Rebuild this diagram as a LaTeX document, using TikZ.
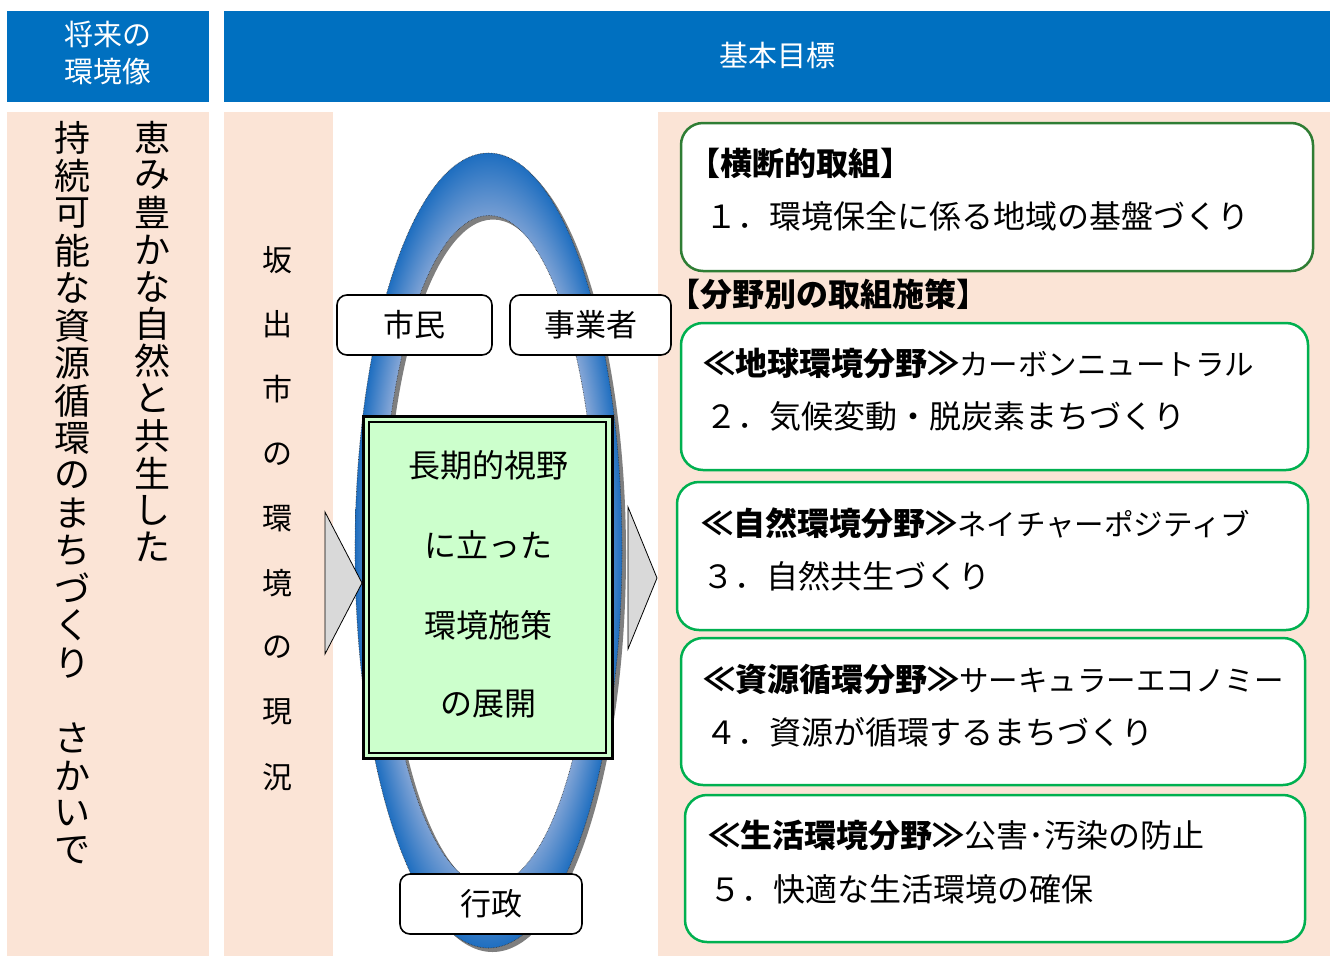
\documentclass[tikz,border=0pt]{standalone}
\usepackage{fontspec}
\setmainfont{Noto Sans CJK JP}
\definecolor{hdrblue}{HTML}{0070C0}
\definecolor{peach}{HTML}{FBE4D6}
\definecolor{boxgreen}{HTML}{00B050}
\definecolor{darkgreen}{HTML}{2F7D34}
\definecolor{paleGreen}{HTML}{CCFFCC}
\definecolor{ringdark}{HTML}{1E6EC0}
\definecolor{ringlight}{HTML}{A4B7DD}
\definecolor{arrowgray}{HTML}{D9D9D9}
\definecolor{shadowgray}{HTML}{7F7F7F}
\pgfdeclareradialshading{ringshade}{\pgfpoint{0bp}{0bp}}{color(0bp)=(ringlight); color(19bp)=(ringlight); color(25bp)=(ringdark); color(50bp)=(ringdark)}
\newcommand{\hd}[1]{{\fontsize{32}{36}\selectfont\bfseries #1}}
\newcommand{\rs}[2]{{\fontsize{#1}{36}\selectfont #2}}
\begin{document}
\begin{tikzpicture}[x=1pt,y=-1pt,
  vch/.style={font=\fontsize{36}{40}\selectfont, inner sep=0pt},
  sch/.style={font=\fontsize{30}{34}\selectfont, inner sep=0pt},
  hdrtxt/.style={text=white, font=\fontsize{29}{33}\selectfont, inner sep=0pt},
  actor/.style={draw=black, line width=1.6pt, rounded corners=10pt, fill=white,
    font=\fontsize{31}{35}\selectfont, inner sep=0pt},
  goalbox/.style={draw=boxgreen, line width=2.5pt, rounded corners=22pt, fill=white, inner sep=0pt},
  txtline/.style={anchor=west, inner sep=0pt, font=\fontsize{32}{36}\selectfont},
  ctrtxt/.style={inner sep=0pt, font=\fontsize{32}{36}\selectfont},
  tri/.style={fill=arrowgray, draw=black, line width=0.8pt, line join=miter}
]
\useasboundingbox (0,0) rectangle (1332,956);
% headers
\fill[hdrblue] (7,11) rectangle (209,102);
\fill[hdrblue] (224,11) rectangle (1330,102);
\node[hdrtxt] (h1a) at (108,34) {将来の};
\node[hdrtxt] (h1b) at (108,72) {環境像};
\node[hdrtxt] (h2) at (777,55) {基本目標};
% panels
\fill[peach] (7,112) rectangle (209,956);
\fill[peach] (224,112) rectangle (333,956);
\fill[peach] (658,112) rectangle (1330,956);
% vertical texts
\foreach \c [count=\i] in {恵,み,豊,か,な,自,然,と,共,生,し,た}
  \node[vch] (va\i) at (152,{138+37.2*(\i-1)}) {\c};
\foreach \c [count=\i] in {持,続,可,能,な,資,源,循,環,の,ま,ち,づ,く,り,{},さ,か,い,で}
  \node[vch] (vb\i) at (72,{138+37.5*(\i-1)}) {\c};
\foreach \c [count=\i] in {坂,出,市,の,環,境,の,現,況}
  \node[sch] (vc\i) at (277,{260+64.6*(\i-1)}) {\c};
% ring
\fill[shadowgray, even odd rule]
  (492.5,554.5) ellipse [x radius=133.5pt, y radius=397.5pt]
  (493,554.5) ellipse [x radius=107pt, y radius=335pt];
\shade[shading=ringshade, even odd rule]
  (488.5,550.5) ellipse [x radius=133.5pt, y radius=397.5pt]
  (489,550.5) ellipse [x radius=107pt, y radius=335pt];
\draw[black!80, densely dotted, line width=0.6pt]
  (488.5,550.5) ellipse [x radius=133.5pt, y radius=397.5pt]
  (489,550.5) ellipse [x radius=107pt, y radius=335pt];
% central policy box
\node[draw=black, line width=3pt, fill=paleGreen, minimum width=249pt, minimum height=342pt, inner sep=0pt] (policy) at (487.5,587.5) {};
\draw[black, line width=1.4pt] (369,422) rectangle (606,753);
\node[ctrtxt] (p1) at (488,465) {長期的視野};
\node[ctrtxt] (p2) at (488,545) {に立った};
\node[ctrtxt] (p3) at (488,625) {環境施策};
\node[ctrtxt] (p4) at (488,704) {の展開};
% triangles
\draw[tri] (325,512) -- (362,583) -- (325,654) -- cycle;
\draw[tri] (628,507) -- (657,578) -- (628,649) -- cycle;
% actors
\node[actor, minimum width=155pt, minimum height=60pt] (shimin) at (414.5,325) {市民};
\node[actor, minimum width=161pt, minimum height=60pt] (jigyo) at (590.5,325) {事業者};
\node[actor, minimum width=182pt, minimum height=60pt] (gyosei) at (491,904) {行政};
% goal boxes
\node[goalbox, draw=darkgreen, minimum width=632pt, minimum height=148pt] (g1) at (997,197) {};
\node[goalbox, minimum width=627pt, minimum height=147pt] (g2) at (994.5,396.5) {};
\node[goalbox, minimum width=631pt, minimum height=148pt] (g3) at (992.5,556) {};
\node[goalbox, minimum width=624pt, minimum height=147pt] (g4) at (993,711.5) {};
\node[goalbox, minimum width=620pt, minimum height=147pt] (g5) at (995,868.5) {};
\node[txtline] (t1a) at (688,163) {\hd{【横断的取組】}};
\node[txtline] (t1b) at (705,216) {１．環境保全に係る地域の基盤づくり};
\node[txtline] (tsec) at (668,294) {\hd{【分野別の取組施策】}};
\node[txtline] (t2a) at (703,363) {\hd{≪地球環境分野≫}\rs{29.5}{カーボンニュートラル}};
\node[txtline] (t2b) at (705,416) {２．気候変動・脱炭素まちづくり};
\node[txtline] (t3a) at (701,523) {\hd{≪自然環境分野≫}\rs{29.5}{ネイチャーポジティブ}};
\node[txtline] (t3b) at (702,576) {３．自然共生づくり};
\node[txtline] (t4a) at (703,679) {\hd{≪資源循環分野≫}\rs{29.5}{サーキュラーエコノミー}};
\node[txtline] (t4b) at (705,732) {４．資源が循環するまちづくり};
\node[txtline] (t5a) at (708,835) {\hd{≪生活環境分野≫}\rs{32}{公害･汚染の防止}};
\node[txtline] (t5b) at (709,889) {５．快適な生活環境の確保};
\end{tikzpicture}
\end{document}
